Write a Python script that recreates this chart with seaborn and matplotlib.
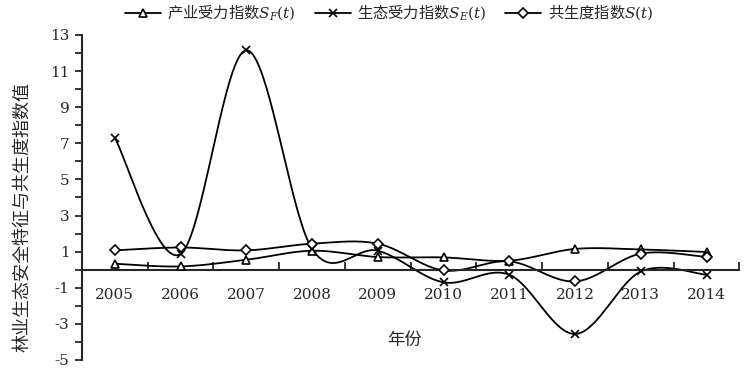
import numpy as np
import matplotlib
matplotlib.use("Agg")
import matplotlib.pyplot as plt
import seaborn as sns
from matplotlib.lines import Line2D
from matplotlib.font_manager import FontProperties

sns.set_style("ticks")
plt.rcParams['font.family'] = ['DejaVu Serif', 'Noto Sans CJK SC', 'DejaVu Sans']
plt.rcParams['axes.unicode_minus'] = False
plt.rcParams['mathtext.fontset'] = 'custom'
plt.rcParams['mathtext.it'] = 'DejaVu Serif:italic'
plt.rcParams['mathtext.rm'] = 'DejaVu Serif'
plt.rcParams['mathtext.fallback'] = 'cm'

# ---------------- DATA ----------------
years = ["2005", "2006", "2007", "2008", "2009", "2010", "2011", "2012", "2013", "2014"]
s_f = [0.33, 0.18, 0.55, 1.05, 0.70, 0.68, 0.50, 1.15, 1.12, 0.98]
s_e = [7.30, 0.87, 12.15, 1.15, 1.05, -0.70, -0.28, -3.56, -0.10, -0.28]
s_all = [1.07, 1.23, 1.07, 1.44, 1.44, -0.04, 0.46, -0.65, 0.89, 0.70]

labels = ["产业受力指数$S_F(t)$", "生态受力指数$S_E(t)$", "共生度指数$S(t)$"]
markers = ["^", "x", "D"]


def smooth(y, n=40):
    # Excel-style smoothed line (Bezier, control points from neighbours / 6)
    y = np.asarray(y, float)
    x = np.arange(len(y), dtype=float)
    p = np.column_stack([x, y])
    pts = []
    t = np.linspace(0, 1, n)[:, None]
    for i in range(len(p) - 1):
        p0 = p[i - 1] if i > 0 else p[i]
        p1, p2 = p[i], p[i + 1]
        p3 = p[i + 2] if i + 2 < len(p) else p[i + 1]
        c1 = p1 + (p2 - p0) / 6
        c2 = p2 - (p3 - p1) / 6
        seg = ((1 - t) ** 3) * p1 + 3 * ((1 - t) ** 2) * t * c1 + 3 * (1 - t) * t ** 2 * c2 + t ** 3 * p2
        pts.append(seg)
    pts = np.vstack(pts)
    return pts[:, 0], pts[:, 1]


fig = plt.figure(figsize=(7.48, 3.69), dpi=100)
ax = fig.add_axes([0.1096, 0.0244, 0.879, 0.881])

handles = []
for vals, lab, mk in zip([s_f, s_e, s_all], labels, markers):
    xs, ys = smooth(vals)
    ax.plot(xs, ys, color="black", lw=1.3, zorder=2)
    ms = 6 if mk != "D" else 5.5
    ax.plot(range(len(vals)), vals, ls="none", marker=mk, ms=ms, mfc="white",
            mec="black", mew=1.2, zorder=3)
    handles.append(Line2D([], [], color="black", lw=1.3, marker=mk, ms=ms,
                          mfc="white", mec="black", mew=1.2))

ax.set_xlim(-0.5, 9.5)
ax.set_ylim(-5, 13)

# y axis
ax.set_yticks(np.arange(-5, 14, 2))
ax.set_yticks(np.arange(-4, 13, 2), minor=True)
ax.tick_params(axis="y", which="both", direction="out", length=5, width=1.3,
               labelsize=11, pad=4)

# x axis crossing at zero, ticks between categories
ax.spines["bottom"].set_position(("data", 0))
ax.set_xticks(np.arange(-0.5, 10, 1))
ax.set_xticklabels([])
ax.set_xticks(np.arange(10), minor=True)
ax.set_xticklabels(years, minor=True)
ax.tick_params(axis="x", which="major", direction="in", length=6, width=1.3)
ax.tick_params(axis="x", which="minor", length=0, labelsize=11, pad=13)

for side in ["top", "right"]:
    ax.spines[side].set_visible(False)
ax.spines["left"].set_linewidth(1.5)
ax.spines["bottom"].set_linewidth(1.5)

ax.set_ylabel("林业生态安全特征与共生度指数值", fontsize=13, family="Noto Sans CJK SC")
ax.yaxis.set_label_coords(-0.078, 0.44)
ax.text(4.41, -3.9, "年份", fontsize=12.5, ha="center", va="center",
        family="Noto Sans CJK SC")

fig.legend(handles, labels, loc="upper center", bbox_to_anchor=(0.52, 1.03),
           ncol=3, frameon=False, prop=FontProperties(family="Noto Sans CJK SC", size=11),
           handlelength=2.4, columnspacing=1.2, handletextpad=0.4)

fig.savefig("out.png", dpi=100)
